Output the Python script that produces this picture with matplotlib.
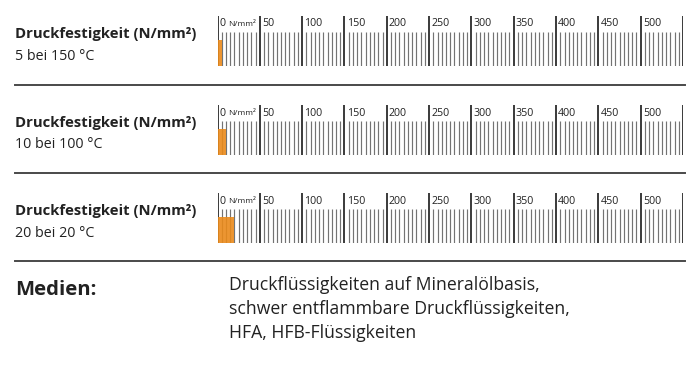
import matplotlib.pyplot as plt
import numpy as np
from matplotlib.lines import Line2D

plt.rcParams["font.family"] = ["Open Sans", "DejaVu Sans"]

# values
strengths = [5, 10, 20]          # N/mm²
temperatures = [150, 100, 20]    # °C
row_title = "Druckfestigkeit (N/mm²)"
scale_max = 550
major_step = 50
minor_step = 5
media_title = "Medien:"
media_lines = [
    "Druckflüssigkeiten auf Mineralölbasis,",
    "schwer entflammbare Druckflüssigkeiten,",
    "HFA, HFB-Flüssigkeiten",
]

W, H = 700, 367
orange = "#EA8A1B"
dark = "#3a3a3a"
grey = "#737373"


def fx(x):
    return x / W


def fy(y):
    return 1 - y / H


fig = plt.figure(figsize=(W / 100, H / 100), dpi=100)

row_tops = [16, 105, 193]
scale_left, scale_right = 217.5, 683
scale_height = 50

major = np.arange(0, scale_max + 1, major_step)
minor = np.array([v for v in np.arange(0, scale_max + 1, minor_step) if v % major_step])

for top, value, temp in zip(row_tops, strengths, temperatures):
    ax = fig.add_axes([fx(scale_left), fy(top + scale_height),
                       (scale_right - scale_left) / W, scale_height / H])
    ax.set_xlim(0, scale_max)
    ax.set_ylim(0, 1)
    ax.axis("off")
    ax.vlines(minor, 0, 0.68, color=grey, lw=0.85, zorder=2)
    ax.vlines(major, 0, 1, color=dark, lw=1.4, zorder=2)
    ax.bar([0], [0.52], width=value, align="edge", color=orange,
           alpha=0.9, zorder=3)
    for v in major[:-1]:
        ax.text(v + 2.5, 0.84, f"{v}", fontsize=7.7, color="#222",
                va="center", ha="left")
    ax.text(12.5, 0.83, "N/mm²", fontsize=6, color="#222",
            va="center", ha="left")

    fig.text(fx(15), fy(top + 18), row_title, fontsize=10.7,
             fontweight="bold", color="#222", va="center", ha="left")
    fig.text(fx(15), fy(top + 40), f"{value} bei {temp} °C", fontsize=10.3,
             color="#222", va="center", ha="left")

for y in [85, 173, 261]:
    fig.add_artist(Line2D([fx(15), fx(685)], [fy(y), fy(y)],
                          color="#4a4a4a", lw=1.4))

fig.text(fx(15), fy(290), media_title, fontsize=14.6, fontweight="bold",
         color="#222", va="center", ha="left")
for i, line in enumerate(media_lines):
    fig.text(fx(229), fy(285 + 24 * i), line, fontsize=12.7,
             color="#222", va="center", ha="left")

fig.savefig("out.png", dpi=100, facecolor="white")
